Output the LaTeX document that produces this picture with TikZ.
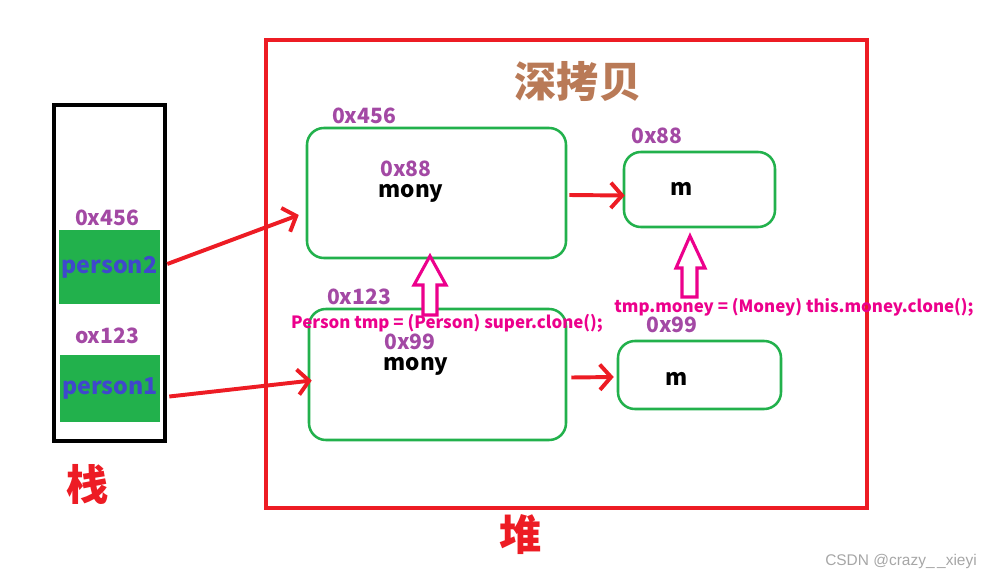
\documentclass[tikz,border=0pt]{standalone}
\usepackage{fontspec}
\setmainfont{Noto Sans CJK SC}
\newfontfamily\wmfont{Liberation Sans}
\usetikzlibrary{arrows.meta, fit}

\definecolor{stackred}{RGB}{237,28,36}
\definecolor{boxgreen}{RGB}{34,177,76}
\definecolor{addrpurple}{RGB}{163,73,164}
\definecolor{varblue}{RGB}{63,72,204}
\definecolor{titlebrown}{RGB}{185,122,87}
\definecolor{codepink}{RGB}{236,0,140}

\tikzset{
  objbox/.style={draw=boxgreen, line width=1.8pt, rounded corners=12pt, inner sep=0pt},
  varcell/.style={fill=boxgreen, inner sep=0pt},
  addr/.style={text=addrpurple, font=\fontsize{15}{18}\selectfont\bfseries, inner sep=0pt},
  field/.style={text=black, font=\fontsize{16}{18}\selectfont\bfseries, inner sep=0pt},
  varname/.style={text=varblue, font=\fontsize{16.5}{19}\selectfont\bfseries, inner sep=0pt},
  bigword/.style={font=\fontsize{30}{33}\selectfont\bfseries, inner sep=0pt},
  code/.style={text=codepink, font=\fontsize{12}{14}\selectfont\bfseries, inner sep=0pt},
  ref/.style={draw=stackred, line width=2.8pt, -{Straight Barb[length=8pt, width=18pt, line width=2.8pt]}},
  copyarrow/.style={draw=codepink, line width=2.2pt, fill=white, line join=miter}
}

\begin{document}
\begin{tikzpicture}[x=0.025cm, y=-0.025cm]
    \useasboundingbox (0,0) rectangle (993,579);

    % ------------------------------------------------------------------
    % 1. Stack (variables)
    % ------------------------------------------------------------------
    \draw[line width=2.2pt] (54,105) rectangle (165,441);
    \node[varcell, fit={(59,230) (160,304)}] (p2) {};
    \node[varcell, fit={(60,355) (160,422)}] (p1) {};
    \node[varname] at (p2.center) {person2};
    \node[varname] at (p1.center) {person1};
    \node[addr] (p2addr) at (107,218) {0x456};
    \node[addr] (p1addr) at (107,336) {ox123};
    \node[bigword, text=stackred] (stack) at (88,484) {栈};

    % ------------------------------------------------------------------
    % 2. Heap
    % ------------------------------------------------------------------
    \draw[stackred, line width=2.2pt] (266,40) rectangle (867,508);
    \node[bigword, text=stackred] (heap) at (521,535) {堆};
    \node[bigword, text=titlebrown] (title) at (578,82) {深拷贝};

    % Person objects
    \node[objbox, fit={(307,128) (566,258)}] (objA) {};
    \node[objbox, fit={(309,309) (566,440)}] (objB) {};
    \node[addr] at (364,116) {0x456};
    \node[addr] at (359,297) {0x123};
    \node[addr] at (406,169) {0x88};
    \node[field] at (411,193) {mony};
    \node[addr] at (410,342) {0x99};
    \node[field] at (416,366) {mony};

    % Money objects
    \node[objbox, fit={(624,152) (775,227)}] (monA) {};
    \node[objbox, fit={(618,341) (781,409)}] (monB) {};
    \node[addr] at (657,136) {0x88};
    \node[addr] at (672,325) {0x99};
    \node[field] at (682,189) {m};
    \node[field] at (677,379) {m};

    % ------------------------------------------------------------------
    % 3. References
    % ------------------------------------------------------------------
    \draw[ref] ([shift={(7,-3)}]p2.east) -- ([shift={(-7,22)}]objA.west);
    \draw[ref] ([shift={(9,8)}]p1.east) -- ([shift={(4,6)}]objB.west);
    \draw[ref] ([shift={(2,2)}]objA.east) -- ([shift={(2,6)}]monA.west);
    \draw[ref] ([shift={(4,3)}]objB.east) -- ([shift={(-3,2)}]monB.west);

    % ------------------------------------------------------------------
    % 4. Clone arrows and code
    % ------------------------------------------------------------------
    \draw[copyarrow] (423,315) -- (423,285) -- (414,285) -- (430,256)
        -- (446,285) -- (437,285) -- (437,315) -- cycle;
    \draw[copyarrow] (682,297) -- (682,268) -- (676,268) -- (690,236)
        -- (705,268) -- (697,268) -- (697,297) -- cycle;
    \node[code] (supercode) at (447,323) {Person tmp = (Person) super.clone();};
    \node[code] (moneycode) at (794,307) {tmp.money = (Money) this.money.clone();};

    % watermark
    \node[text=gray!70, font=\wmfont\fontsize{11}{13}\selectfont, inner sep=0pt] at (901,561) {CSDN @crazy\_\,\_xieyi};

\end{tikzpicture}
\end{document}
